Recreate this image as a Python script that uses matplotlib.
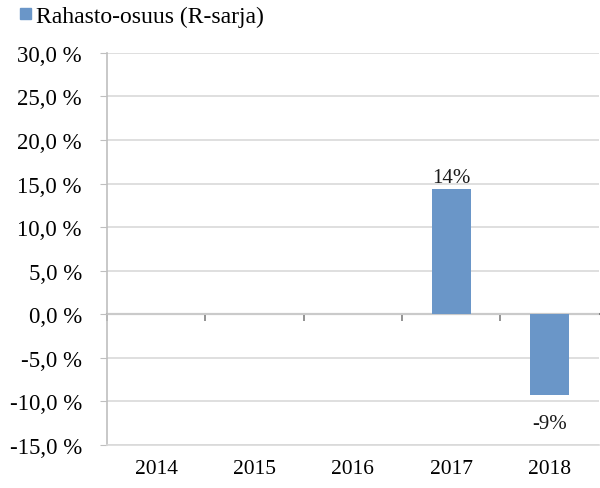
import matplotlib.pyplot as plt
from matplotlib.patches import Rectangle
import numpy as np

years = ['2014', '2015', '2016', '2017', '2018']
share = [np.nan, np.nan, np.nan, 14.35, -9.25]
labels = ['', '', '', '14%', '-9%']
yticks = [-15, -10, -5, 0, 5, 10, 15, 20, 25, 30]

plt.rcParams['font.family'] = ['Liberation Serif', 'DejaVu Serif']

fig = plt.figure(figsize=(6, 4.89), dpi=100)
ax = fig.add_axes([0.178, 0.088, 0.82, 0.802])

x = np.arange(len(years))
bars = ax.bar(x, share, width=0.4, color='#6a96c8', zorder=3)

for xi, v, lab in zip(x, share, labels):
    if lab:
        off = 0.3 if v > 0 else -2.2
        ax.text(xi, v + off, lab, ha='center', va='bottom' if v > 0 else 'top',
                fontsize=15, color='#1a1a1a')

ax.set_xlim(-0.5, len(years) - 0.5)
ax.set_ylim(-15, 30)
ax.set_yticks(yticks)
ax.set_yticklabels([f'{t:.1f} %'.replace('.', ',') for t in yticks], fontsize=16.5)
ax.grid(axis='y', color='#d9d9d9', linewidth=1.2, zorder=0)
ax.set_axisbelow(True)

ax.set_xticks(x)
ax.set_xticklabels(years, fontsize=15.5)
ax.tick_params(axis='x', length=0, pad=10)
ax.tick_params(axis='y', length=5, color='#bfbfbf', pad=13)

for s in ['top', 'right']:
    ax.spines[s].set_visible(False)
ax.spines['left'].set_color('#bfbfbf')
ax.spines['bottom'].set_color('#d9d9d9')
ax.spines['left'].set_linewidth(1.2)
ax.spines['bottom'].set_linewidth(1.2)

# zero line with category ticks
sec = ax.secondary_xaxis(1/3)
sec.set_xticks(np.arange(len(years)) - 0.5)
sec.set_xticklabels([])
sec.tick_params(length=5, color='#808080', width=1.2)
sec.spines['bottom'].set_color('#808080')
sec.spines['bottom'].set_linewidth(1.5)

# legend
fig.patches.append(Rectangle((20 / 600, 1 - 20 / 489), 11 / 600, 11 / 489,
                             transform=fig.transFigure, color='#6a96c8'))
fig.text(36 / 600, 1 - 17 / 489, 'Rahasto-osuus (R-sarja)', fontsize=17, va='center')

fig.savefig('out.png', dpi=100)
